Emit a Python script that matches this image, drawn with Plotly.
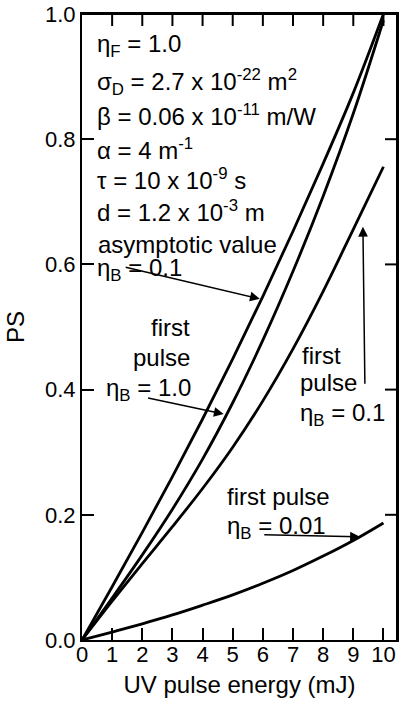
import plotly.graph_objects as go

energy = [0, 1, 2, 3, 4, 5, 6, 7, 8, 9, 10]
ps_asymptotic_b01 = [0, 0.085, 0.172, 0.261, 0.353, 0.449, 0.549, 0.653, 0.761, 0.874, 1.0]
ps_first_b10 = [0, 0.067, 0.136, 0.209, 0.289, 0.379, 0.479, 0.589, 0.709, 0.841, 0.99]
ps_first_b01 = [0, 0.062, 0.122, 0.181, 0.242, 0.308, 0.382, 0.465, 0.557, 0.656, 0.756]
ps_first_b001 = [0, 0.0127, 0.0259, 0.040, 0.0556, 0.072, 0.0906, 0.111, 0.134, 0.159, 0.187]

x_ticks = [0, 1, 2, 3, 4, 5, 6, 7, 8, 9, 10]
y_ticks = [0.0, 0.2, 0.4, 0.6, 0.8, 1.0]
x_range = [0, 10.45]
y_range = [0, 1.0]

FONT = "Liberation Sans, Arial, Helvetica, sans-serif"
W, H = 399, 708
M = dict(l=82, r=2, t=14, b=68)
PLOT_W = W - M["l"] - M["r"]
PLOT_H = H - M["t"] - M["b"]
TICKLEN = 12

line_style = dict(color="black", width=2.8, shape="spline", smoothing=1.0)

fig = go.Figure()
for ys in [ps_asymptotic_b01, ps_first_b10, ps_first_b01, ps_first_b001]:
    fig.add_trace(go.Scatter(x=energy, y=ys, mode="lines", line=line_style,
                             showlegend=False, hoverinfo="skip"))

# top and right sides of the frame with their inward ticks
x0, x1 = x_range
y0, y1 = y_range
tick_dy = TICKLEN / PLOT_H * (y1 - y0)
tick_dx = TICKLEN / PLOT_W * (x1 - x0)
fx = [x0, x1, x1]
fy = [y1, y1, y0]
for v in x_ticks[1:]:
    fx += [None, v, v]
    fy += [None, y1, y1 - tick_dy]
for v in y_ticks[1:-1]:
    fx += [None, x1, x1 - tick_dx]
    fy += [None, v, v]
fig.add_trace(go.Scatter(x=fx, y=fy, mode="lines", cliponaxis=False,
                         line=dict(color="black", width=2), showlegend=False,
                         hoverinfo="skip"))

TXT = 24
def text(t, x, y, xanchor="left"):
    fig.add_annotation(text=t, x=x, y=y, xref="x", yref="y", showarrow=False,
                       xanchor=xanchor, yanchor="middle",
                       font=dict(family=FONT, size=TXT, color="black"))

def arrow(tx, ty, hx, hy):
    fig.add_annotation(text="", x=hx, y=hy, ax=tx, ay=ty, xref="x", yref="y",
                       axref="x", ayref="y", showarrow=True, arrowhead=2,
                       arrowsize=1.3, arrowwidth=1.5, arrowcolor="black")

# parameter block
text("η<sub>F</sub> = 1.0", 0.415, 0.950)
text("σ<sub>D</sub> = 2.7 x 10<sup>-22</sup> m<sup>2</sup>", 0.415, 0.891)
text("β = 0.06 x 10<sup>-11</sup> m/W", 0.415, 0.839)
text("α = 4 m<sup>-1</sup>", 0.415, 0.785)
text("τ = 10 x 10<sup>-9</sup> s", 0.415, 0.737)
text("d = 1.2 x 10<sup>-3</sup> m", 0.415, 0.686)
text("asymptotic value", 0.48, 0.631)
text("η<sub>B</sub> = 0.1", 0.415, 0.592)
arrow(1.40, 0.596, 5.897, 0.545)

# first pulse eta_B = 1.0
text("first", 3.64, 0.500, "right")
text("pulse", 3.64, 0.452, "right")
text("η<sub>B</sub> = 1.0", 3.67, 0.400, "right")
arrow(2.143, 0.387, 4.70, 0.361)

# first pulse eta_B = 0.1
text("first", 7.226, 0.455)
text("pulse", 7.16, 0.412)
text("η<sub>B</sub> = 0.1", 7.16, 0.360)
arrow(9.385, 0.407, 9.319, 0.660)

# first pulse eta_B = 0.01
text("first pulse", 4.73, 0.230)
text("η<sub>B</sub> = 0.01", 4.73, 0.180)
arrow(5.997, 0.168, 9.219, 0.165)

axis_common = dict(showgrid=False, zeroline=False, showline=True, linecolor="black",
                   linewidth=2, ticks="inside", ticklen=TICKLEN, tickwidth=2,
                   tickcolor="black", automargin=False, mirror=True,
                   tickfont=dict(family=FONT, size=22, color="black"),
                   title_font=dict(family=FONT, size=24, color="black"))

fig.update_layout(
    xaxis=dict(range=x_range, tickvals=x_ticks, ticktext=[str(v) for v in x_ticks],
               title_text="UV pulse energy (mJ)", title_standoff=10,
               ticklabelstandoff=-6, **axis_common),
    yaxis=dict(range=y_range, tickvals=y_ticks, ticktext=[f"{v:.1f}" for v in y_ticks],
               title_text="PS", title_standoff=14, **axis_common),
    width=W, height=H, margin=M,
    plot_bgcolor="white", paper_bgcolor="white",
    font=dict(family=FONT, color="black"),
)

# remove the browser's default 8 px body margin so the figure fills the window
fig.write_html("out.html", config={"displayModeBar": False},
               post_script="document.body.style.margin='0';")
